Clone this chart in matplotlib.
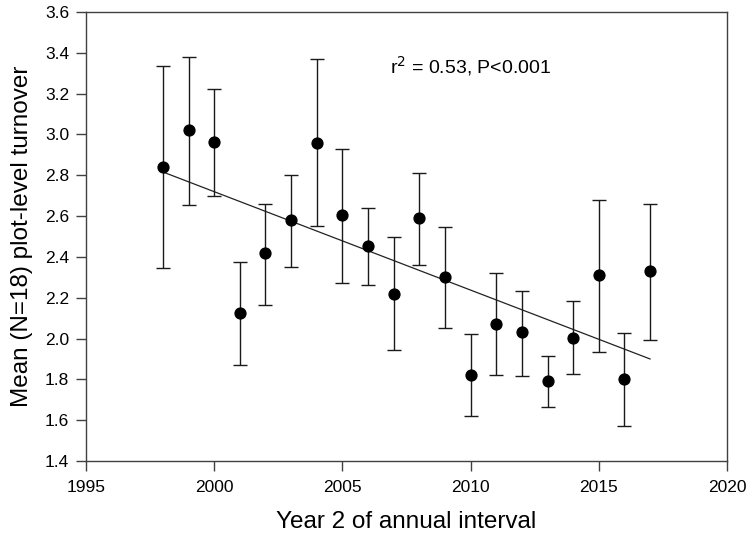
import matplotlib
matplotlib.use("Agg")
import matplotlib.pyplot as plt
import numpy as np

plt.rcParams['font.family'] = ['Liberation Sans', 'DejaVu Sans']

years = [1998, 1999, 2000, 2001, 2002, 2003, 2004, 2005, 2006, 2007,
         2008, 2009, 2010, 2011, 2012, 2013, 2014, 2015, 2016, 2017]
means = [2.84, 3.02, 2.965, 2.125, 2.42, 2.58, 2.96, 2.605, 2.455, 2.22,
         2.59, 2.30, 1.82, 2.07, 2.03, 1.79, 2.005, 2.31, 1.80, 2.33]
lower = [2.345, 2.655, 2.70, 1.87, 2.165, 2.35, 2.55, 2.27, 2.26, 1.945,
         2.36, 2.05, 1.62, 1.82, 1.815, 1.665, 1.825, 1.935, 1.57, 1.995]
upper = [3.335, 3.38, 3.225, 2.375, 2.66, 2.80, 3.37, 2.93, 2.64, 2.50,
         2.81, 2.545, 2.02, 2.32, 2.235, 1.915, 2.185, 2.68, 2.025, 2.66]
trend_years = [1998, 2017]
trend_values = [2.816, 1.90]

x_ticks = [1995, 2000, 2005, 2010, 2015, 2020]
y_ticks = [1.4, 1.6, 1.8, 2.0, 2.2, 2.4, 2.6, 2.8, 3.0, 3.2, 3.4, 3.6]

fig = plt.figure(figsize=(7.5, 5.42), dpi=100)
ax = fig.add_axes([0.1147, 0.1494, 0.8546, 0.8285])

m = np.array(means)
yerr = np.vstack([m - np.array(lower), np.array(upper) - m])
ax.errorbar(years, means, yerr=yerr, fmt='o', color='black', ms=7.8,
            ecolor='#1a1a1a', elinewidth=1.0, capsize=4.8, capthick=1.0, zorder=3)
ax.plot(trend_years, trend_values, color='#222222', lw=0.9, zorder=2)

ax.set_xlim(1995, 2020)
ax.set_ylim(1.4, 3.6)
ax.set_xticks(x_ticks)
ax.set_yticks(y_ticks)
ax.set_yticklabels([f"{v:.1f}" for v in y_ticks])
ax.tick_params(direction='out', length=7, width=1, color='#404040',
               labelsize=12.5)
ax.tick_params(axis='x', pad=7)
ax.tick_params(axis='y', pad=5)
for s in ax.spines.values():
    s.set_color('#404040')
    s.set_linewidth(1.0)

ax.set_xlabel('Year 2 of annual interval', fontsize=17.5, labelpad=11)
ax.set_ylabel('Mean (N=18) plot-level turnover', fontsize=17.5, labelpad=9)
ax.text(2006.85, 3.30, r'r$^{2}$ = 0.53, P<0.001', fontsize=14, ha='left', va='baseline')

fig.savefig('out.png', dpi=100)
